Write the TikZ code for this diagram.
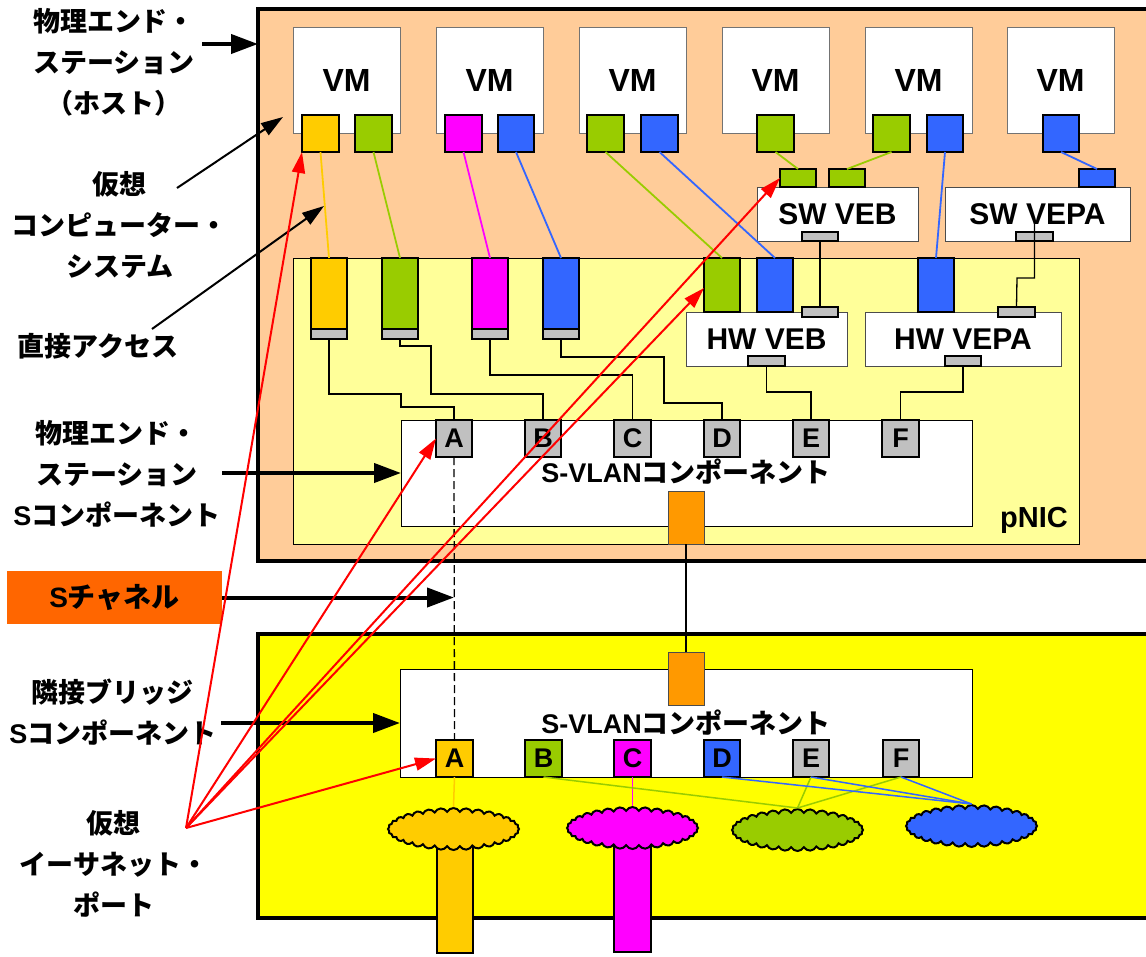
\documentclass[tikz,border=0pt]{standalone}
\usepackage{fontspec}
\setmainfont{Liberation Sans}
\newfontfamily\jp{Noto Sans CJK JP}
\usetikzlibrary{arrows.meta,shapes.symbols,calc}
\definecolor{hostc}{HTML}{FFCC99}
\definecolor{nicc}{HTML}{FFFF99}
\definecolor{brc}{HTML}{FFFF00}
\definecolor{yel}{HTML}{FFCC00}
\definecolor{grn}{HTML}{99CC00}
\definecolor{mag}{HTML}{FF00FF}
\definecolor{blu}{HTML}{3366FF}
\definecolor{gry}{HTML}{C0C0C0}
\definecolor{org}{HTML}{FF9900}
\definecolor{sch}{HTML}{FF6600}
\newcommand\myfs[1]{\fontsize{#1}{#1}\selectfont\bfseries}
\newcommand\La[1]{{\rmfamily\bfseries #1}}
\newcommand\mybox[7]{\node[#6, minimum width={#4pt-#2pt}, minimum height={#5pt-#3pt}] (#1) at ({(#2+#4)/2},{(#3+#5)/2}) {#7};}
\tikzset{
  bx/.style={draw, rectangle, inner sep=0pt, outer sep=0pt},
  port/.style={bx, line width=2.2pt, draw=black},
  wbox/.style={bx, fill=white, draw=black!70, line width=0.9pt},
  wire/.style={line width=1.3pt, black},
  cline/.style={line width=1.8pt},
  gport/.style={port, fill=gry},
  lbl/.style={align=center, inner sep=0pt, font=\jp\fontsize{27}{41}\selectfont\bfseries},
  bigarrow/.style={line width=4pt, -{Triangle[length=27pt,width=19pt]}},
  thinarrow/.style={line width=2pt, -{Triangle[length=22pt,width=14pt]}},
  redarrow/.style={line width=2pt, red, -{Triangle[length=21pt,width=13pt]}},
  cl/.style={cloud, cloud puffs=32, cloud puff arc=125, aspect=3, draw, line width=2pt, inner sep=0pt, minimum width=131pt, minimum height=42pt},
}
\begin{document}
\begin{tikzpicture}[x=1pt,y=-1pt]
\useasboundingbox (0,0) rectangle (1146,956);
\clip (0,0) rectangle (1146,956);
% main boxes
\mybox{host}{258}{9}{1180}{561}{bx, fill=hostc, line width=4pt}{}
\mybox{bridge}{258}{634}{1180}{918}{bx, fill=brc, line width=4pt}{}
\mybox{pnic}{293}{258}{1079}{544}{bx, fill=nicc, line width=0.9pt}{}
\node[font=\myfs{29}, anchor=base] (pniclbl) at (1034,527) {pNIC};
% VMs
\foreach \n/\xa in {1/293,2/436,3/579,4/722,5/865,6/1007}{
  \mybox{vm\n}{\xa}{27}{\xa+107}{133}{wbox, draw=black!55}{\myfs{32}VM}
}
\mybox{p1}{302}{115}{339}{152}{port, fill=yel}{}
\mybox{p2}{355}{115}{392}{152}{port, fill=grn}{}
\mybox{p3}{445}{115}{482}{152}{port, fill=mag}{}
\mybox{p4}{498}{115}{534}{152}{port, fill=blu}{}
\mybox{p5}{587}{115}{624}{152}{port, fill=grn}{}
\mybox{p6}{641}{115}{678}{152}{port, fill=blu}{}
\mybox{p7}{757}{115}{794}{152}{port, fill=grn}{}
\mybox{p8}{873}{115}{910}{152}{port, fill=grn}{}
\mybox{p9}{927}{115}{963}{152}{port, fill=blu}{}
\mybox{p10}{1043}{115}{1079}{152}{port, fill=blu}{}
% SW VEB / VEPA
\mybox{sveb}{757}{187}{918}{241}{wbox}{\myfs{30}SW VEB}
\mybox{sg1}{780}{169}{816}{187}{port, fill=grn}{}
\mybox{sg2}{829}{169}{865}{187}{port, fill=grn}{}
\mybox{svebB}{802}{232}{838}{241}{gport}{}
\mybox{svepa}{945}{187}{1130}{241}{wbox}{\myfs{30}SW VEPA}
\mybox{sb1}{1079}{169}{1115}{187}{port, fill=blu}{}
\mybox{svepaB}{1016}{232}{1053}{241}{gport}{}
% HW VEB / VEPA
\mybox{hveb}{686}{312}{847}{366}{wbox}{\myfs{30}HW VEB}
\mybox{hg}{704}{258}{740}{312}{port, fill=grn}{}
\mybox{hb}{757}{258}{793}{312}{port, fill=blu}{}
\mybox{hvebT}{802}{307}{838}{317}{gport}{}
\mybox{hvebB}{748}{356}{785}{366}{gport}{}
\mybox{hvepa}{865}{312}{1061}{366}{wbox}{\myfs{30}HW VEPA}
\mybox{hvb}{918}{258}{954}{312}{port, fill=blu}{}
\mybox{hvepaT}{998}{307}{1035}{317}{gport}{}
\mybox{hvepaB}{945}{356}{981}{366}{gport}{}
% pNIC direct ports
\mybox{t1}{311}{258}{347}{329}{port, fill=yel}{}
\mybox{t1g}{311}{329}{347}{339}{gport}{}
\mybox{t2}{382}{258}{418}{329}{port, fill=grn}{}
\mybox{t2g}{382}{329}{418}{339}{gport}{}
\mybox{t3}{472}{258}{508}{329}{port, fill=mag}{}
\mybox{t3g}{472}{329}{508}{339}{gport}{}
\mybox{t4}{543}{258}{579}{329}{port, fill=blu}{}
\mybox{t4g}{543}{329}{579}{339}{gport}{}
% upper S-VLAN
\mybox{usv}{401}{420}{972}{526}{wbox, draw=black, line width=0.9pt}{}
\node[font=\myfs{27}] (usvlbl) at (686,472) {S-VLAN{\jp コンポーネント}};
\mybox{uA}{436}{420}{472}{457}{gport}{\myfs{27}A}
\mybox{uB}{525}{420}{561}{457}{gport}{\myfs{27}B}
\mybox{uC}{614}{420}{651}{457}{gport}{\myfs{27}C}
\mybox{uD}{704}{420}{740}{457}{gport}{\myfs{27}D}
\mybox{uE}{793}{420}{829}{457}{gport}{\myfs{27}E}
\mybox{uF}{882}{420}{919}{457}{gport}{\myfs{27}F}
\mybox{uO}{668}{491}{704}{544}{bx, fill=org, draw=black!70, line width=1pt}{}
% lower S-VLAN
\mybox{lsv}{400}{669}{972}{777}{wbox, draw=black, line width=0.9pt}{}
\node[font=\myfs{27}] (lsvlbl) at (686,723) {S-VLAN{\jp コンポーネント}};
\mybox{lO}{668}{652}{704}{705}{bx, fill=org, draw=black!70, line width=1pt}{}
\mybox{lA}{436}{740}{473}{777}{port, fill=yel}{\myfs{27}A}
\mybox{lB}{525}{740}{562}{777}{port, fill=grn}{\myfs{27}B}
\mybox{lC}{614}{740}{651}{777}{port, fill=mag}{\myfs{27}C}
\mybox{lD}{704}{740}{740}{777}{port, fill=blu}{\myfs{27}D}
\mybox{lE}{793}{740}{829}{777}{gport}{\myfs{27}E}
\mybox{lF}{883}{740}{919}{777}{gport}{\myfs{27}F}
% stems and clouds
\mybox{ys}{437}{845}{473}{953}{port, fill=yel}{}
\mybox{ms}{614}{843}{651}{952}{port, fill=mag}{}
\node[cl, fill=yel] (yc) at (453.5,829) {};
\node[cl, fill=mag] (mc) at (632.5,828) {};
\node[cl, fill=grn] (gc) at (797.5,830) {};
\node[cl, fill=blu] (bc) at (971.5,826) {};
% colored links VM -> switches
\draw[cline, yel] (p1.south) -- (t1.north);
\draw[cline, grn] (p2.south) -- (t2.north);
\draw[cline, mag] (p3.south) -- (t3.north);
\draw[cline, blu] (p4.south) -- (t4.north);
\draw[cline, grn] (p5.south) -- (hg.north);
\draw[cline, blu] (p6.south) -- (hb.north);
\draw[cline, grn] (p7.south) -- (sg1.north);
\draw[cline, grn] (p8.south) -- (sg2.north);
\draw[cline, blu] (p9.south) -- (hvb.north);
\draw[cline, blu] (p10.south) -- (sb1.north);
% black wiring
\draw[wire] (svebB.south) -- (hvebT.north);
\draw[wire] ([yshift=10pt]svepaB.north) |- (1017,278) -- (hvepaT.north);
\draw[wire] (t1g.south) |- (401,394) -- (401,407) -| (uA.north);
\draw[wire] (t2g.south) |- (431,346) -- (431,394) -| (uB.north);
\draw[wire] (t3g.south) |- ([yshift=45pt]uC.north) -- (uC.north);
\draw[wire] (t4g.south) |- (664,357) -- (664,403) -| (uD.north);
\draw[wire] (hvebB.south) |- ([yshift=28pt]uE.north) -- (uE.north);
\draw[wire] (hvepaB.south) |- ([yshift=28pt]uF.north) -- (uF.north);
\draw[wire] (uO.south) -- (lO.north);
\draw[wire, dashed, dash pattern=on 8pt off 4pt] (uA.south) -- (lA.north);
% lower links
\draw[line width=1.5pt, yel] (lA.south) -- (yc.north);
\draw[line width=1.5pt, mag] (lC.south) -- (mc.north);
\draw[line width=1.5pt, grn] (lB.south) -- (gc.north);
\draw[line width=1.5pt, grn] (lE.south) -- (gc.north);
\draw[line width=1.5pt, grn] (lF.south) -- (gc.north);
\draw[line width=1.5pt, blu] (lD.south) -- (bc.north);
\draw[line width=1.5pt, blu] (lE.south) -- (bc.north);
\draw[line width=1.5pt, blu] (lF.south) -- (bc.north);
% left labels
\node[lbl] (L1) at (114,62) {物理エンド・\\ステーション\\（ホスト）};
\node[lbl] (L2) at (120,225) {仮想\\コンピューター・\\システム};
\node[lbl] (L3) at (98,346) {直接アクセス};
\node[lbl] (L4) at (117,474) {物理エンド・\\ステーション\\\La{S}コンポーネント};
\mybox{schan}{7}{571}{222}{624}{bx, fill=sch, draw=none}{\myfs{28}S{\jp チャネル}}
\node[lbl] (L5) at (113,712) {隣接ブリッジ\\\La{S}コンポーネント};
\node[lbl] (L6) at (114,864) {仮想\\イーサネット・\\ポート};
% black arrows
\coordinate (a1) at (202,44);
\coordinate (a2) at (222,473);
\coordinate (a4) at (221,723);
\coordinate (a5) at (177,188);
\coordinate (a5e) at (283,117);
\coordinate (a6) at (152,329);
\coordinate (a6e) at (324,206);
\draw[bigarrow] (a1) -- (a1 -| host.west);
\draw[bigarrow] (a2) -- (a2 -| usv.west);
\draw[bigarrow] (schan.east) -- (schan.east -| uA.center);
\draw[bigarrow] (a4) -- (a4 -| lsv.west);
\draw[thinarrow] (a5) -- (a5e);
\draw[thinarrow] (a6) -- (a6e);
% red arrows
\coordinate (vp) at (186,828);
\draw[redarrow] (vp) -- (p1.south west);
\draw[redarrow] (vp) -- (uA.west);
\draw[redarrow] (vp) -- ([yshift=-3pt]hg.west);
\draw[redarrow] (vp) -- (sg1.west);
\draw[redarrow] (vp) -- (lA.west);
\end{tikzpicture}
\end{document}
